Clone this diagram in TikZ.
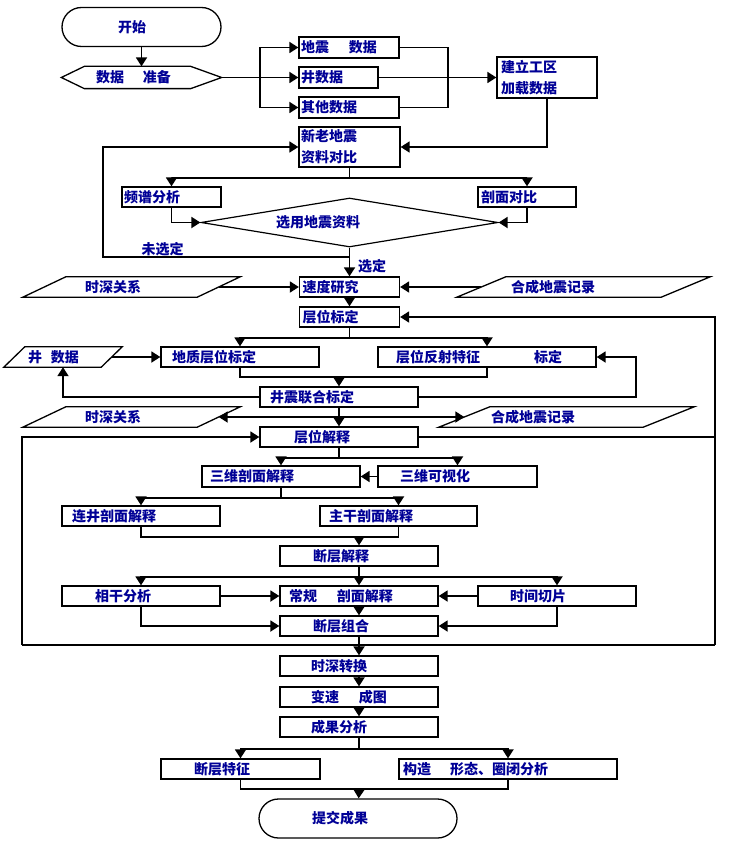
\documentclass[tikz,border=0pt]{standalone}
\usepackage{fontspec}
\newfontfamily\cjkfont{Noto Sans CJK SC}
\usepackage{tikz}
\usetikzlibrary{arrows.meta,shapes.geometric}
\definecolor{txtblue}{RGB}{0,0,150}

\begin{document}
\begin{tikzpicture}[
  x=1pt,y=-1pt,
  every node/.style={font=\cjkfont\bfseries\fontsize{14}{21}\selectfont,text=txtblue},
  box/.style={draw,line width=1.3pt,inner xsep=2pt,inner ysep=0pt,minimum height=21pt,align=left},
  term/.style={box,rounded corners=19.5pt,minimum height=39pt},
  para/.style={inner sep=0pt,minimum height=20pt,align=left},
  frame/.style={line width=1.3pt},
  ln/.style={line width=1.8pt},
  arr/.style={ln,-{Triangle[length=9pt,width=11pt]}}
]
\useasboundingbox (0,0) rectangle (728,845);
\node[term,text width=155pt] (start) at (141.5,27) {\hspace*{54pt}开始};
\node[box,draw=none,text width=155pt] (prep) at (141.5,77.5) {\hspace*{32pt}数据\hspace{19pt}准备};
\draw[frame] (prep.west) -- ([xshift=23pt]prep.north west) -- ([xshift=-31pt]prep.north east) -- (prep.east) -- ([xshift=-31pt]prep.south east) -- ([xshift=23pt]prep.south west) -- cycle;
\node[box,text width=96pt] (seis) at (349,47.5) {地震\hspace{20pt}数据};
\node[box,text width=75pt] (well) at (338.5,77.5) {井数据};
\node[box,text width=96pt] (other) at (349,107.5) {其他数据};
\node[box,text width=96pt,minimum height=41pt] (proj) at (547,77.5) {\hspace*{2pt}建立工区\\\hspace*{2pt}加载数据};
\node[box,text width=97pt,minimum height=40pt] (cmp) at (349.5,147) {新老地震\\资料对比};
\node[box,text width=95pt,minimum height=20pt] (spec) at (171.5,197) {频谱分析};
\node[box,text width=94pt,minimum height=20pt] (sect) at (527,197) {\hspace*{1pt}剖面对比};
\node[draw,diamond,aspect=6,line width=1.2pt,inner sep=0pt,minimum width=297pt,minimum height=49pt] (sel) at (349.5,222.5) {选用地震资料\hspace*{63pt}};
\node (unsel) at (162.5,249) {未选定};
\node (sellbl) at (372,266) {选定};
\node[box,text width=96pt,minimum height=20pt] (vel) at (349.5,287) {\hspace*{1pt}速度研究};
\node[box,text width=96pt,minimum height=20pt] (cal) at (349.5,317) {\hspace*{1pt}层位标定};
\node[para,text width=174pt] (twt) at (131.5,287) {\hspace*{40.5pt}时深关系};
\draw[frame] ([xshift=-21.5pt]twt.south west) -- ([xshift=21.5pt]twt.north west) -- ([xshift=21.5pt]twt.north east) -- ([xshift=-21.5pt]twt.south east) -- cycle;
\node[para,text width=204pt] (synth) at (583.5,287) {\hspace*{29.5pt}合成地震记录};
\draw[frame] ([xshift=-24.5pt]synth.south west) -- ([xshift=24.5pt]synth.north west) -- ([xshift=24.5pt]synth.north east) -- ([xshift=-24.5pt]synth.south east) -- cycle;
\node[box,text width=154pt,minimum height=20pt] (geo) at (240,357) {\hspace*{9pt}地质层位标定};
\node[box,text width=214pt,minimum height=20pt] (refl) at (487,357) {\hspace*{16pt}层位反射特征\hspace{54pt}标定};
\node[para,text width=97pt] (wdata) at (63,357) {\hspace*{13.5pt}井\hspace{9pt}数据};
\draw[frame] ([xshift=-10.5pt]wdata.south west) -- ([xshift=10.5pt]wdata.north west) -- ([xshift=10.5pt]wdata.north east) -- ([xshift=-10.5pt]wdata.south east) -- cycle;
\node[box,text width=154pt,minimum height=20pt] (tie) at (339,397) {\hspace*{8pt}井震联合标定};
\node[para,text width=174pt] (twt2) at (131.5,417) {\hspace*{40.5pt}时深关系};
\draw[frame] ([xshift=-21.5pt]twt2.south west) -- ([xshift=21.5pt]twt2.north west) -- ([xshift=21.5pt]twt2.north east) -- ([xshift=-21.5pt]twt2.south east) -- cycle;
\node[para,text width=204pt] (synth2) at (566.5,417) {\hspace*{26.5pt}合成地震记录};
\draw[frame] ([xshift=-25.5pt]synth2.south west) -- ([xshift=25.5pt]synth2.north west) -- ([xshift=25.5pt]synth2.north east) -- ([xshift=-25.5pt]synth2.south east) -- cycle;
\node[box,text width=154pt,minimum height=20pt] (interp) at (339,437) {\hspace*{32pt}层位解释};
\node[box,text width=154pt] (sec3d) at (281,476.5) {\hspace*{6pt}三维剖面解释};
\node[box,text width=155pt] (vis3d) at (457.5,476.5) {\hspace*{20pt}三维可视化};
\node[box,text width=154pt,minimum height=20pt] (wellsec) at (141,516) {\hspace*{8pt}连井剖面解释};
\node[box,text width=153pt,minimum height=20pt] (mainsec) at (398.5,516) {\hspace*{7pt}主干剖面解释};
\node[box,text width=154pt,minimum height=20pt] (fault) at (359,556) {\hspace*{31pt}断层解释};
\node[box,text width=154pt,minimum height=20pt] (coh) at (141,596) {\hspace*{31pt}相干分析};
\node[box,text width=154pt,minimum height=20pt] (conv) at (359,596) {\hspace*{7pt}常规\hspace{20pt}剖面解释};
\node[box,text width=154pt,minimum height=20pt] (slice) at (557,596) {\hspace*{30pt}时间切片};
\node[box,text width=154pt,minimum height=20pt] (combo) at (359,626) {\hspace*{31pt}断层组合};
\node[box,text width=154pt,minimum height=20pt] (depth) at (359,666) {\hspace*{29pt}时深转换};
\node[box,text width=154pt,minimum height=20pt] (vmap) at (359,697) {\hspace*{29pt}变速\hspace{20pt}成图};
\node[box,text width=154pt,minimum height=20pt] (ana) at (359,727) {\hspace*{29pt}成果分析};
\node[box,text width=155pt,minimum height=20pt] (fchar) at (240.5,769) {\hspace*{31pt}断层特征};
\node[box,text width=214pt,minimum height=20pt] (struct) at (508,769) {\hspace*{2pt}构造\hspace{19pt}形态、圈闭分析};
\node[term,text width=194pt] (submit) at (358,818.5) {\hspace*{51pt}提交成果};
\coordinate (mj) at (448,77.5);
\coordinate (nsel) at (349.5,257);
\coordinate (lp) at (103,257);
\coordinate (j1) at (339,377);
\coordinate (j2) at (339,417);
\coordinate (lb) at (22,645);
\coordinate (rb) at (715,645);
\coordinate (j4) at (359,537);
\coordinate (j5) at (359,789);
\draw[arr] (start) -- (prep);
\draw[arr] (prep.east) -- ++(38,0) |- (seis);
\draw[arr] (prep) -- (well);
\draw[arr] (prep.east) -- ++(38,0) |- (other);
\draw[ln] (seis.east) -| (mj) |- (other.east);
\draw[arr] (well) -- (proj);
\draw[arr] (proj) |- (cmp);
\draw[arr] (nsel) -- (lp) |- (cmp);
\draw[arr] (cmp.south) -- ++(0,10.5) -| (spec);
\draw[arr] (cmp.south) -- ++(0,10.5) -| (sect);
\draw[arr] (spec) |- (sel);
\draw[arr] (sect) |- (sel);
\draw[arr] (sel) -- (vel);
\draw[arr] (twt) -- (vel);
\draw[arr] (synth) -- (vel);
\draw[arr] (vel) -- (cal);
\draw[arr] (cal.south) -- ++(0,10) -| (geo);
\draw[arr] (cal.south) -- ++(0,10) -| (refl);
\draw[arr] (wdata) -- (geo);
\draw[ln] (geo) |- (j1) -| (refl);
\draw[arr] (j1) -- (tie);
\draw[arr] (tie) -| (wdata);
\draw[arr] (tie.east) -- ++(217,0) |- (refl);
\draw[arr] (tie) -- (interp);
\draw[arr] (j2) -- (twt2);
\draw[arr] (j2) -- (synth2);
\draw[arr] (lb) |- (interp);
\draw[ln] (lb) -- (rb);
\draw[ln] (interp) -| (rb);
\draw[arr] (rb) |- (cal);
\draw[arr] (interp.south) -- ++(0,10) -| (sec3d);
\draw[arr] (interp.south) -- ++(0,10) -| (vis3d);
\draw[arr] (vis3d) -- (sec3d);
\draw[arr] (sec3d.south) -- ++(0,10) -| (wellsec);
\draw[arr] (sec3d.south) -- ++(0,10) -| (mainsec);
\draw[ln] (wellsec) |- (j4) -| (mainsec);
\draw[arr] (j4) -- (fault);
\draw[arr] (fault.south) -- ++(0,10) -| (coh);
\draw[arr] (fault) -- (conv);
\draw[arr] (fault.south) -- ++(0,10) -| (slice);
\draw[arr] (coh) -- (conv);
\draw[arr] (slice) -- (conv);
\draw[arr] (conv) -- (combo);
\draw[arr] (coh) |- (combo);
\draw[arr] (slice) |- (combo);
\draw[arr] (combo) -- (depth);
\draw[arr] (depth) -- (vmap);
\draw[arr] (vmap) -- (ana);
\draw[arr] (ana.south) -- ++(0,11) -| (fchar);
\draw[arr] (ana.south) -- ++(0,11) -| (struct);
\draw[ln] (fchar) |- (j5) -| (struct);
\draw[arr] (j5) -- (submit);
\end{tikzpicture}
\end{document}
